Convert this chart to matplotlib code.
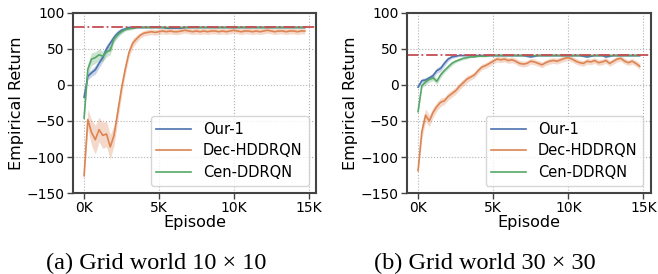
import numpy as np
import matplotlib
matplotlib.use("Agg")
import matplotlib.pyplot as plt

# episodes sampled every 250 steps, 0 .. 14750
step = 250

# ---- (a) grid world 10x10 ----
our_a = [-17, 12, 17, 21, 30, 38, 50, 58, 66, 72, 76, 78, 80, 79, 80, 80, 80, 80, 80, 80,
         80, 80, 79, 79, 79, 79, 79, 80, 80, 80, 80, 80, 80, 80, 80, 80, 80, 80, 80, 80,
         80, 80, 80, 80, 80, 80, 80, 80, 80, 80, 80, 80, 80, 80, 80, 80, 80, 80, 80, 80]
our_a_sd = [4, 5, 5, 6, 6, 6, 6, 5, 5, 4, 3, 2, 2, 1, 1, 1, 1, 1, 1, 1,
            1, 1, 1, 1, 1, 1, 1, 1, 1, 1, 1, 1, 1, 1, 1, 1, 1, 1, 1, 1,
            1, 1, 1, 1, 1, 1, 1, 1, 1, 1, 1, 1, 1, 1, 1, 1, 1, 1, 1, 1]
dec_a = [-126, -48, -66, -76, -62, -70, -68, -86, -70, -38, -5, 22, 45, 58, 64, 69, 72, 73, 74,
         73, 74, 75, 74, 75, 74, 74, 75, 76, 75, 74, 75, 74, 75, 74, 75, 75, 74, 75, 74, 75,
         76, 75, 74, 75, 75, 74, 75, 74, 75, 76, 75, 74, 75, 75, 74, 75, 75, 74, 75, 75]
dec_a_sd = [4, 14, 18, 20, 17, 18, 18, 17, 14, 12, 10, 8, 7, 6, 5, 4, 4, 4, 4,
            4, 4, 4, 4, 4, 4, 4, 4, 4, 4, 4, 4, 4, 4, 4, 4, 4, 4, 4, 4, 4,
            4, 4, 4, 4, 4, 4, 4, 4, 4, 4, 4, 4, 4, 4, 4, 4, 4, 4, 4, 4]
cen_a = [-46, 22, 36, 38, 42, 40, 46, 48, 64, 70, 74, 77, 78, 79, 80, 80, 80, 80, 80, 80,
         80, 80, 80, 80, 80, 80, 80, 80, 80, 80, 80, 80, 80, 80, 80, 80, 80, 80, 80, 80,
         80, 80, 80, 80, 80, 80, 80, 80, 80, 80, 80, 80, 80, 80, 80, 80, 80, 80, 80, 80]
cen_a_sd = [4, 8, 9, 8, 8, 7, 7, 6, 5, 4, 3, 2, 2, 2, 1, 1, 1, 1, 1, 1,
            1, 1, 1, 1, 1, 1, 1, 1, 1, 1, 1, 1, 1, 1, 1, 1, 1, 1, 1, 1,
            1, 1, 1, 1, 1, 1, 1, 1, 1, 1, 1, 1, 1, 1, 1, 1, 1, 1, 1, 1]
opt_a = 81

# ---- (b) grid world 30x30 ----
our_b = [-3, 6, 7, 10, 13, 20, 23, 30, 36, 39, 40, 41, 41, 41, 41, 41, 41, 41, 41, 41,
         41, 41, 41, 41, 41, 41, 41, 41, 41, 40, 39, 40, 41, 41, 41, 41, 41, 41, 41, 41,
         41, 41, 41, 41, 40, 39, 40, 41, 41, 41, 39, 40, 41, 41, 41, 41, 41, 41, 41, 41]
our_b_sd = [2, 3, 3, 3, 4, 4, 4, 4, 3, 2, 2, 1, 1, 1, 1, 1, 1, 1, 1, 1,
            1, 1, 1, 1, 1, 1, 1, 1, 1, 1, 1, 1, 1, 1, 1, 1, 1, 1, 1, 1,
            1, 1, 1, 1, 1, 1, 1, 1, 1, 1, 1, 1, 1, 1, 1, 1, 1, 1, 1, 1]
dec_b = [-119, -65, -42, -50, -38, -30, -24, -22, -16, -12, -8, -2, 3, 8, 11, 14, 20, 25, 27, 30,
         33, 36, 35, 36, 34, 35, 33, 30, 29, 30, 33, 32, 30, 28, 31, 33, 34, 33, 35, 37,
         38, 36, 33, 31, 30, 33, 32, 34, 31, 32, 34, 30, 33, 36, 37, 33, 31, 33, 30, 26]
dec_b_sd = [3, 10, 9, 8, 7, 6, 6, 5, 5, 5, 5, 5, 5, 5, 4, 4, 4, 4, 4, 4,
            4, 4, 4, 4, 4, 4, 4, 4, 4, 4, 4, 4, 4, 4, 4, 4, 4, 4, 4, 4,
            4, 4, 4, 4, 4, 4, 4, 4, 4, 4, 4, 4, 4, 4, 4, 4, 4, 4, 4, 4]
cen_b = [-37, -1, 4, 8, 10, 5, 14, 20, 25, 30, 33, 35, 37, 38, 39, 39, 40, 40, 40, 41,
         41, 41, 41, 41, 41, 41, 41, 41, 41, 41, 41, 41, 41, 41, 41, 41, 41, 41, 41, 41,
         41, 41, 41, 41, 41, 41, 41, 41, 41, 41, 41, 41, 41, 41, 41, 41, 41, 41, 41, 41]
cen_b_sd = [2, 3, 4, 4, 4, 4, 4, 3, 3, 3, 2, 2, 2, 2, 1, 1, 1, 1, 1, 1,
            1, 1, 1, 1, 1, 1, 1, 1, 1, 1, 1, 1, 1, 1, 1, 1, 1, 1, 1, 1,
            1, 1, 1, 1, 1, 1, 1, 1, 1, 1, 1, 1, 1, 1, 1, 1, 1, 1, 1, 1]
opt_b = 42

labels = ["Our-1", "Dec-HDDRQN", "Cen-DDRQN"]
colors = ["#4C72B0", "#DD8452", "#55A868"]
captions = ["(a) Grid world 10 \u00d7 10", "(b) Grid world 30 \u00d7 30"]

fig = plt.figure(figsize=(6.58, 2.74), dpi=100)
ax_a = fig.add_axes([0.111, 0.2956, 0.369, 0.657])
ax_b = fig.add_axes([0.6185, 0.2956, 0.3705, 0.657])

panels = [
    (ax_a, [our_a, dec_a, cen_a], [our_a_sd, dec_a_sd, cen_a_sd], opt_a),
    (ax_b, [our_b, dec_b, cen_b], [our_b_sd, dec_b_sd, cen_b_sd], opt_b),
]

for ax, series, sds, opt in panels:
    x = np.arange(len(series[0])) * step
    for y, sd, c, lab in zip(series, sds, colors, labels):
        y = np.array(y, dtype=float)
        sd = np.array(sd, dtype=float)
        ax.fill_between(x, y - sd, y + sd, color=c, alpha=0.3, lw=0)
        ax.plot(x, y, color=c, lw=1.2, label=lab)
    ax.axhline(opt, color="#C44E52", ls="-.", lw=1.3)
    ax.set_ylim(-150, 100)
    ax.set_yticks([-150, -100, -50, 0, 50, 100])
    ax.set_xticks([0, 5000, 10000, 15000])
    ax.set_xticklabels(["0K", "5K", "10K", "15K"])
    ax.grid(True, ls=":", color="#b0b0b0", lw=0.8)
    ax.set_axisbelow(True)
    for s in ax.spines.values():
        s.set_color("#444444")
        s.set_linewidth(1.5)
    ax.tick_params(labelsize=10, color="#444444", length=4, width=1, pad=2)
    ax.set_xlabel("Episode", fontsize=11.5, labelpad=0)
    ax.set_ylabel("Empirical Return", fontsize=11.5, labelpad=2)
    leg = ax.legend(loc="lower right", fontsize=10.5, labelspacing=0.45,
                    handlelength=2.4, fancybox=True, framealpha=0.8)
    leg.get_frame().set_edgecolor("#cccccc")

fig.text(0.237, 0.04, captions[0], fontsize=17.5, family="Liberation Serif",
         ha="center", va="center")
fig.text(0.737, 0.04, captions[1], fontsize=17.5, family="Liberation Serif",
         ha="center", va="center")

fig.savefig("out.png", dpi=100)
